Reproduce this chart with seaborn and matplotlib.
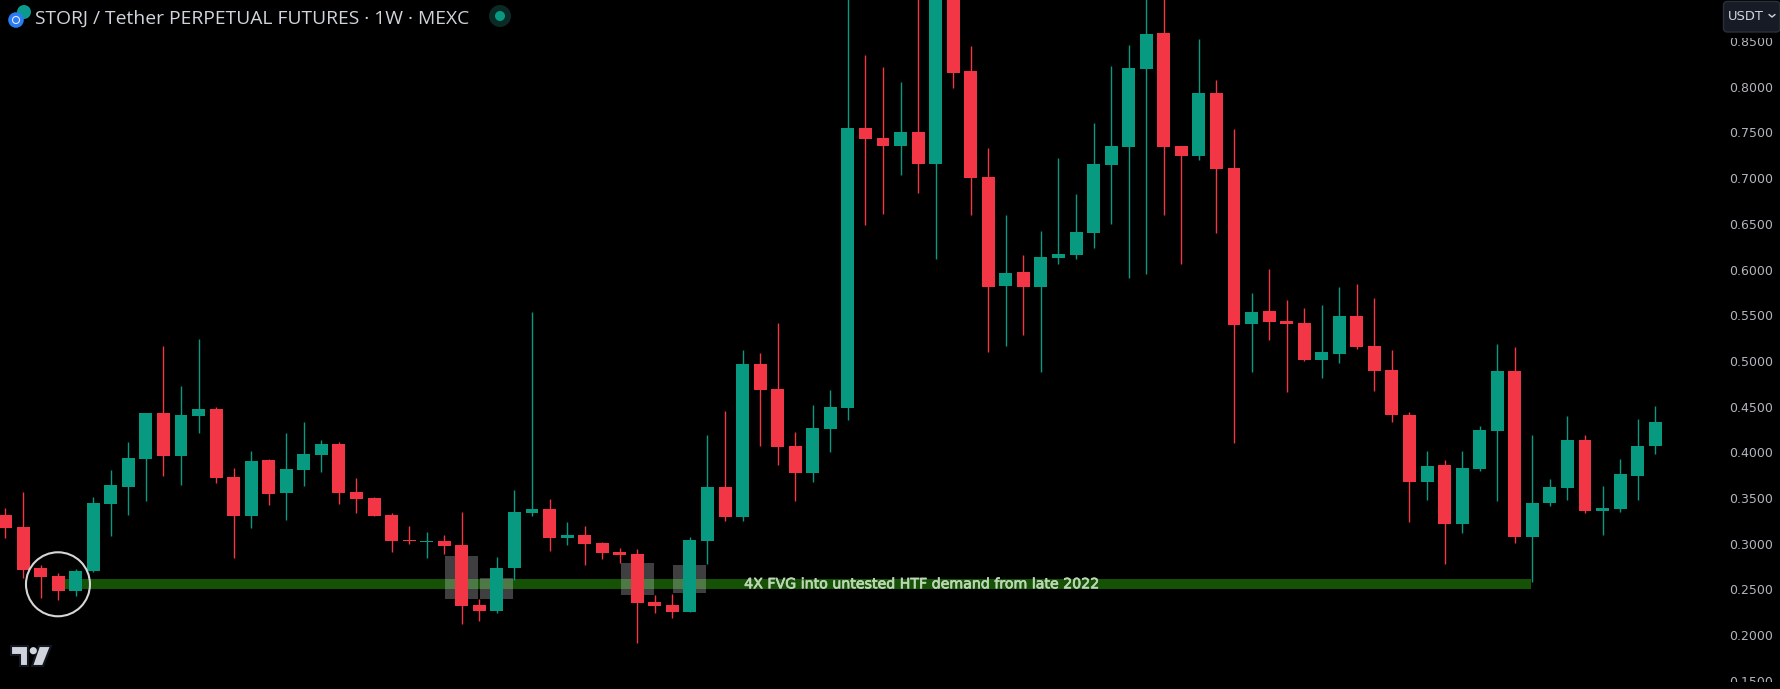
import numpy as np
import pandas as pd
import matplotlib
matplotlib.use("Agg")
import matplotlib.pyplot as plt
import matplotlib.patheffects as pe
from matplotlib.patches import Ellipse, Rectangle, Circle, Polygon, FancyBboxPatch
import seaborn as sns

# weekly candles
opens = [.3315,.3184,.2735,.2648,.2483,.2702,.3435,.3621,.3928,.4431,.3960,.4398,.4475,.3731,.3304,.3917,.3556,.3807,.3971,.4092,
         .3567,.3501,.3315,.3041,.3020,.3030,.2987,.2330,.2265,.2735,.3337,.3381,.3063,.3096,.3009,.2910,.2888,.2363,.2330,.2254,
         .3030,.3621,.3293,.4967,.4693,.4070,.3774,.4256,.4485,.7549,.7439,.7352,.7505,.7155,.9168,.8172,.7013,.5820,.5973,.5809,
         .6127,.6159,.6400,.7144,.7341,.8194,.8588,.7352,.7242,.7932,.7111,.5404,.5547,.5437,.5415,.5011,.5076,.5492,.5164,.4901,
         .4409,.3676,.3862,.3216,.3818,.4234,.4890,.3074,.3446,.3610,.4135,.3359,.3381,.3742,.4070]
closes = [.3173,.2713,.2637,.2483,.2702,.3446,.3643,.3938,.4431,.3960,.4409,.4475,.3720,.3304,.3906,.3545,.3818,.3982,.4092,.3556,
          .3490,.3304,.3030,.3030,.3030,.2976,.2319,.2265,.2735,.3348,.3381,.3063,.3096,.2998,.2899,.2877,.2352,.2319,.2254,.3041,
          .3621,.3293,.4967,.4682,.4059,.3774,.4267,.4496,.7549,.7428,.7352,.7505,.7155,.9168,.8150,.7002,.5809,.5962,.5809,.6137,
          .6170,.6411,.7155,.7352,.8205,.8577,.7341,.7242,.7932,.7100,.5393,.5536,.5426,.5404,.5011,.5098,.5492,.5153,.4890,.4409,
          .3676,.3851,.3216,.3829,.4245,.4890,.3074,.3446,.3621,.4135,.3359,.3391,.3763,.4070,.4332]
highs = [.3391,.3567,.2768,.2680,.2724,.3512,.3807,.4114,.4431,.5164,.4726,.5240,.4496,.3829,.4015,.3928,.4212,.4332,.4135,.4114,
         .3720,.3512,.3337,.3195,.3129,.3096,.3348,.2396,.2855,.3588,.5536,.3490,.3238,.3195,.3020,.2954,.2943,.2440,.2451,.3074,
         .4190,.4453,.5120,.5087,.5415,.4223,.4518,.4682,.9050,.8347,.8216,.8052,.9000,.9300,.9400,.8446,.7330,.6597,.6159,.6422,
         .7220,.6827,.7603,.8227,.8457,.9100,.9100,.7352,.8522,.8074,.7538,.5744,.6006,.5667,.5579,.5612,.5809,.5842,.5689,.5120,
         .4442,.4015,.3917,.4015,.4289,.5186,.5153,.4190,.3709,.4398,.4190,.3632,.3928,.4365,.4507]
lows = [.3063,.2626,.2407,.2385,.2429,.2691,.3085,.3315,.3468,.3742,.3643,.4212,.3665,.2844,.3173,.3424,.3260,.3632,.3785,.3435,
        .3337,.3304,.2910,.2998,.2844,.2888,.2122,.2155,.2243,.2604,.3304,.2921,.2987,.2768,.2834,.2790,.1915,.2243,.2188,.2254,
        .2779,.3249,.3249,.4070,.3862,.3468,.3676,.4004,.4354,.6487,.6608,.7034,.6838,.6116,.7986,.6597,.5098,.5164,.5284,.4879,
        .6061,.6116,.6236,.6498,.5908,.5951,.6597,.6061,.7199,.6400,.4103,.4879,.5229,.4661,.5000,.4814,.4978,.5131,.4671,.4332,
        .3238,.3479,.2779,.3118,.3796,.3468,.3009,.2582,.3413,.3479,.3337,.3096,.3348,.3479,.3982]

price_ticks = [.15,.20,.25,.30,.35,.40,.45,.50,.55,.60,.65,.70,.75,.80,.85]

# demand zone and the four FVG boxes (week start, week end, price low, price high)
zone_weeks = [3.0, 86.9]
zone_prices = [.2505, .2615]
fvg_starts = [25.04, 27.04, 35.07, 38.03]
fvg_ends = [26.92, 28.92, 36.95, 39.91]
fvg_lows = [.2396, .2396, .2440, .2462]
fvg_highs = [.2866, .2626, .2790, .2768]

title = "STORJ / Tether PERPETUAL FUTURES · 1W · MEXC"
note = "4X FVG into untested HTF demand from late 2022"

GREEN = "#089981"
RED = "#F23645"
TXT = "#d1d4dc"

W, H = 1781, 689
sns.set_theme(style="dark", rc={"figure.facecolor": "black", "axes.facecolor": "black", "savefig.facecolor": "black"})
plt.rcParams["font.family"] = ["DejaVu Sans"]

df = pd.DataFrame({"week": np.arange(len(opens)), "open": opens, "close": closes, "high": highs, "low": lows})
df["body"] = (df["close"] - df["open"]).abs()
df["base"] = df[["open", "close"]].min(axis=1)
df["up"] = df["close"] >= df["open"]

fig = plt.figure(figsize=(W / 100, H / 100), dpi=100)
ax = fig.add_axes([0, 0, 1, 1])

# zone + boxes sit under the candles
ax.add_patch(Rectangle((zone_weeks[0], zone_prices[0]), zone_weeks[1] - zone_weeks[0], zone_prices[1] - zone_prices[0],
                       color="#165206", lw=0, zorder=1))
for s, e, l, h in zip(fvg_starts, fvg_ends, fvg_lows, fvg_highs):
    ax.add_patch(Rectangle((s, l), e - s, h - l, color="#d1d4dc", alpha=0.3, lw=0, zorder=2))

for up, col in [(True, GREEN), (False, RED)]:
    sub = df[df["up"] == up]
    ax.vlines(sub["week"], sub["low"], sub["high"], color=col, lw=1.0, zorder=3)
    sns.barplot(data=sub, x="week", y="body", bottom=sub["base"].values, native_scale=True, color=col,
                saturation=1, width=0.74, errorbar=None, linewidth=0, zorder=4, ax=ax)

ax.add_patch(Ellipse((2.99, .2557), 64 / 17.55, 64 * .001094, fill=False, ec="#d6d6d6", lw=1.5, zorder=5))
ax.text(52.2, .2557, note, color="#bdd6b6", fontsize=10.2, ha="center", va="center", zorder=6,
        path_effects=[pe.withStroke(linewidth=0.5, foreground="#bdd6b6")])

ax.set_xlim(-5.5 / 17.55, (W - 5.5) / 17.55)
ax.set_ylim(.8949 - .001094 * H, .8949)
ax.set_xlabel("")
ax.set_ylabel("")
ax.set_xticks([])
ax.set_yticks(price_ticks)
ax.set_yticklabels(["%.4f" % p for p in price_ticks])
ax.yaxis.tick_right()
ax.tick_params(axis="y", length=0, pad=-37.4, labelsize=9, labelcolor="#b2b5be")
ax.grid(False)
sns.despine(ax=ax, left=True, right=True, top=True, bottom=True)

# header, logo and currency button live in pixel space
top = fig.add_axes([0, 0, 1, 1], facecolor="none", zorder=5)
top.set_xlim(0, W)
top.set_ylim(H, 0)
top.axis("off")
top.add_patch(Rectangle((1723, 0), 58, 37.5, color="black", lw=0))
top.add_patch(Rectangle((1723, 682), 58, 7, color="black", lw=0))
top.add_patch(FancyBboxPatch((1723.5, 1.5), 56.5, 30.5, boxstyle="round,pad=0,rounding_size=4", fc="#171b26", ec="#2a2e39", lw=1))
top.text(1728, 17, "USDT", color=TXT, fontsize=9.4, va="center", ha="left")
top.plot([1769, 1772, 1775], [14.5, 17, 14.5], color=TXT, lw=1)

top.add_patch(Circle((24, 12), 7, color="#0b9a8d", lw=0))
top.add_patch(Circle((16, 20), 7.8, color="#2b7bf2", lw=0))
top.add_patch(Circle((16, 20), 3.5, fill=False, ec="#dfe9ff", lw=0.8))
top.text(35, 18.5, title, color=TXT, fontsize=13.9, family="Open Sans", va="center", ha="left")
top.add_patch(Circle((500, 16), 11, color="#0a2a26", lw=0))
top.add_patch(Circle((500, 16), 5, color=GREEN, lw=0))

for pts in ([(11, 646), (28, 646), (28, 666), (20, 666), (20, 655), (11, 655)], [(39, 646), (51, 646), (43, 666), (32, 666)]):
    top.add_patch(Polygon(pts, fc=TXT, ec="#131722", lw=1.5))
top.add_patch(Circle((33.3, 650.7), 3.6, color=TXT, lw=0))

fig.savefig("out.png", dpi=100)
